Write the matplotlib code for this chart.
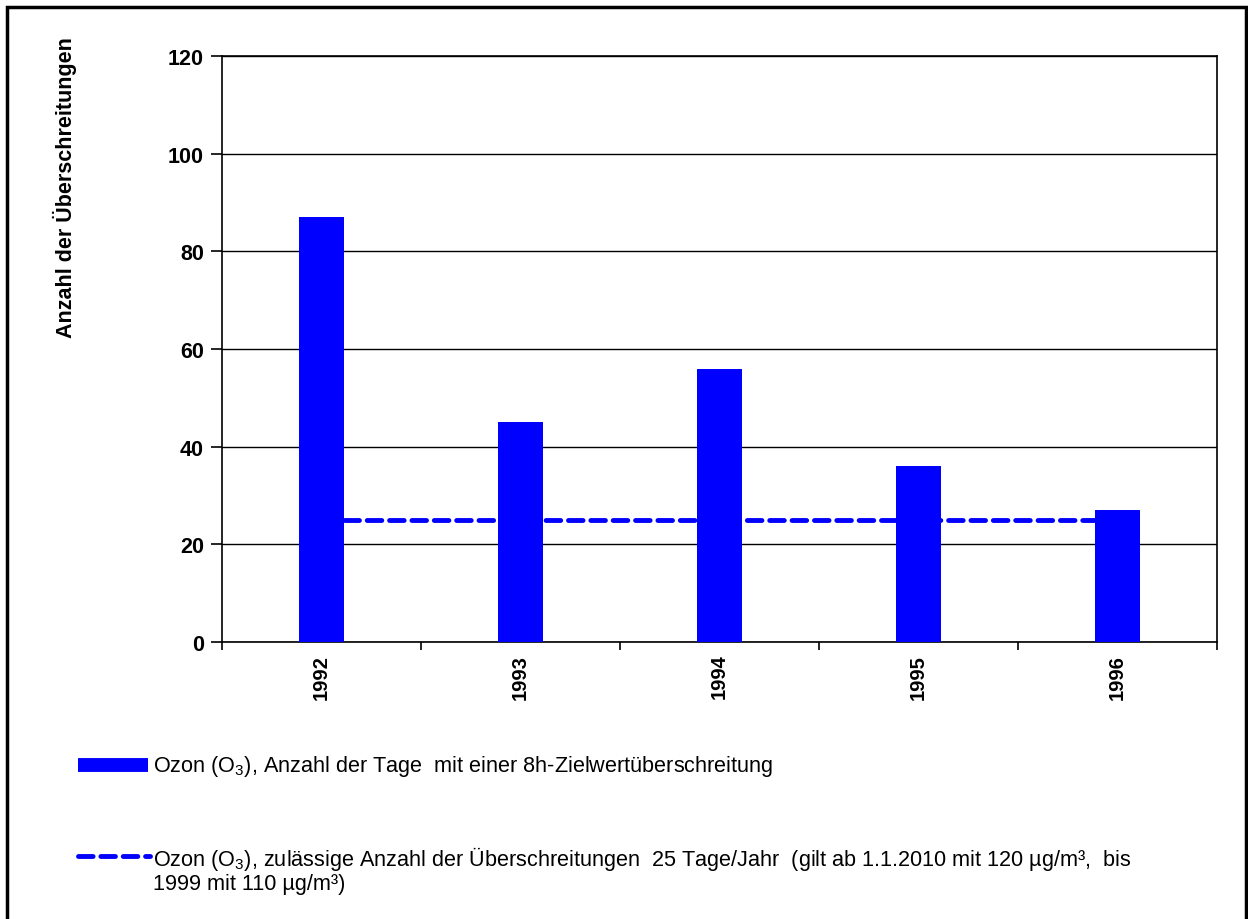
import numpy as np
import matplotlib.pyplot as plt
from matplotlib.patches import Rectangle
from matplotlib.lines import Line2D

# Daten
jahre = ['1992', '1993', '1994', '1995', '1996']
tage = [87, 45, 56, 36, 27]
grenzwert = [25, 25, 25, 25, 25]

label_bar = 'Ozon (O$_3$), Anzahl der Tage  mit einer 8h-Zielwertüberschreitung'
label_line1 = ('Ozon (O$_3$), zulässige Anzahl der Überschreitungen  25 Tage/Jahr  '
               '(gilt ab 1.1.2010 mit 120 µg/m³,  bis')
label_line2 = '1999 mit 110 µg/m³)'

plt.rcParams['font.family'] = ['Liberation Sans', 'DejaVu Sans']
plt.rcParams['mathtext.fontset'] = 'custom'
plt.rcParams['mathtext.rm'] = 'Liberation Sans'

W, H = 1248, 920
fig = plt.figure(figsize=(W / 100, H / 100), dpi=100)
ax = fig.add_axes([222 / W, 1 - 643 / H, (1217 - 222) / W, (643 - 57) / H])

x = np.arange(len(jahre))
ax.plot(x, grenzwert, color='#0000ff', lw=3.5, ls=(0, (3, 1.6)),
        dash_capstyle='round', zorder=2)
ax.bar(x, tage, width=0.225, color='#0000ff', zorder=3)

ax.set_xlim(-0.5, len(jahre) - 0.5)
ax.set_ylim(0, 120)
ax.set_yticks(range(0, 121, 20))
ax.yaxis.grid(True, color='black', lw=1.0)
ax.set_axisbelow(True)
for s in ax.spines.values():
    s.set_linewidth(1.2)

ax.tick_params(axis='y', direction='out', length=8, width=1.2, labelsize=15.5, pad=5)
ax.set_yticklabels([str(v) for v in range(0, 121, 20)], fontweight='bold')

ax.set_xticks(np.arange(-0.5, len(jahre), 1.0))
ax.set_xticklabels([])
ax.tick_params(axis='x', direction='out', length=6, width=1.2)
for i, j in enumerate(jahre):
    ax.text(i, -2.4, j, rotation=90, ha='center', va='top',
            fontsize=14.5, fontweight='bold')

fig.text(65 / W, 1 - 188 / H, 'Anzahl der Überschreitungen', rotation=90,
         ha='center', va='center', fontsize=15.5, fontweight='bold')

# Legende
fig.add_artist(Line2D([78 / W, 148 / W], [1 - 766 / H] * 2, color='#0000ff', lw=10,
                      solid_capstyle='butt'))
fig.text(153 / W, 1 - 767 / H, label_bar, ha='left', va='center', fontsize=15.6)
fig.add_artist(Line2D([78 / W, 150 / W], [1 - 857 / H] * 2, color='#0000ff', lw=3.5,
                      ls=(0, (3, 1.6)), dash_capstyle='round'))
fig.text(153 / W, 1 - 866 / H, label_line1, ha='left', va='baseline', fontsize=15.6)
fig.text(153 / W, 1 - 890 / H, label_line2, ha='left', va='baseline', fontsize=15.6)

# Rahmen
fig.add_artist(Rectangle((7 / W, -0.05), (1246 - 7) / W, 1.05 - 8 / H, fill=False,
                         ec='black', lw=2.5, transform=fig.transFigure))

fig.savefig('out.png', dpi=100)
